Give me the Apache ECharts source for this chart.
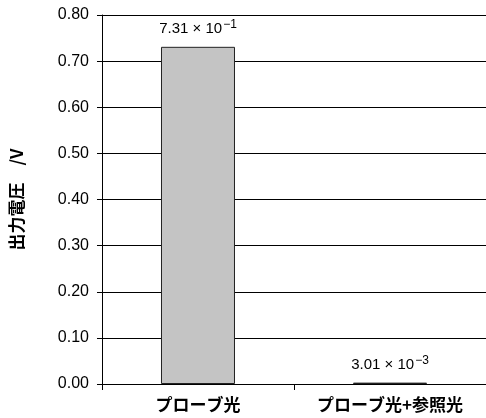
<!DOCTYPE html>
<html>
<head>
<meta charset="utf-8">
<script src="https://cdn.jsdelivr.net/npm/echarts@6/dist/echarts.min.js"></script>
<style>
html,body{margin:0;padding:0;background:#fff;}
#chart{width:486px;height:418px;}
</style>
</head>
<body>
<div id="chart"></div>
<script>
const categories = ['プローブ光', 'プローブ光+参照光'];
const values = [0.731, 0.00301];
const yTicks = [0, 0.1, 0.2, 0.3, 0.4, 0.5, 0.6, 0.7, 0.8];
const yTitle = '出力電圧　/V';

function sciLabel(v) {
  const e = Math.floor(Math.log10(v));
  const m = (v / Math.pow(10, e)).toFixed(2);
  return '{a|' + m + ' × 10}{b|−' + Math.abs(e) + '}';
}

const chart = echarts.init(document.getElementById('chart'), null, {renderer: 'canvas'});
chart.setOption({
  animation: false,
  backgroundColor: '#ffffff',
  grid: {left: 95, top: 15, width: 394, height: 369, containLabel: false},
  xAxis: {
    type: 'category',
    data: categories,
    boundaryGap: true,
    axisLine: {lineStyle: {color: '#000', width: 1}},
    axisTick: {show: true, length: 6, lineStyle: {color: '#000'}},
    axisLabel: {
      color: '#000', fontSize: 17, margin: 12,
      fontFamily: 'Noto Sans CJK JP', fontWeight: 'bold'
    }
  },
  yAxis: {
    type: 'value',
    min: yTicks[0],
    max: yTicks[yTicks.length - 1],
    interval: 0.1,
    name: yTitle,
    nameLocation: 'middle',
    nameRotate: 90,
    nameGap: 77,
    nameTextStyle: {color: '#000', fontSize: 17, fontWeight: 'bold', fontFamily: 'Noto Sans CJK JP'},
    axisLine: {show: true, lineStyle: {color: '#000', width: 1}},
    axisTick: {show: true, length: 5, lineStyle: {color: '#000'}},
    axisLabel: {
      color: '#000', fontSize: 16, margin: 13,
      fontFamily: 'Liberation Sans',
      formatter: v => v.toFixed(2)
    },
    splitLine: {show: true, lineStyle: {color: '#000', width: 1}}
  },
  series: [{
    type: 'bar',
    data: values,
    barWidth: 74,
    itemStyle: {color: '#c4c4c4', borderColor: '#222', borderWidth: 1},
    label: {
      show: true,
      position: 'top',
      distance: 8,
      formatter: p => sciLabel(p.value),
      rich: {
        a: {fontSize: 15, color: '#000', fontFamily: 'Liberation Sans'},
        b: {fontSize: 12, color: '#000', fontFamily: 'Liberation Sans', padding: [0, 0, 8, 1]}
      }
    }
  }]
});
</script>
</body>
</html>
